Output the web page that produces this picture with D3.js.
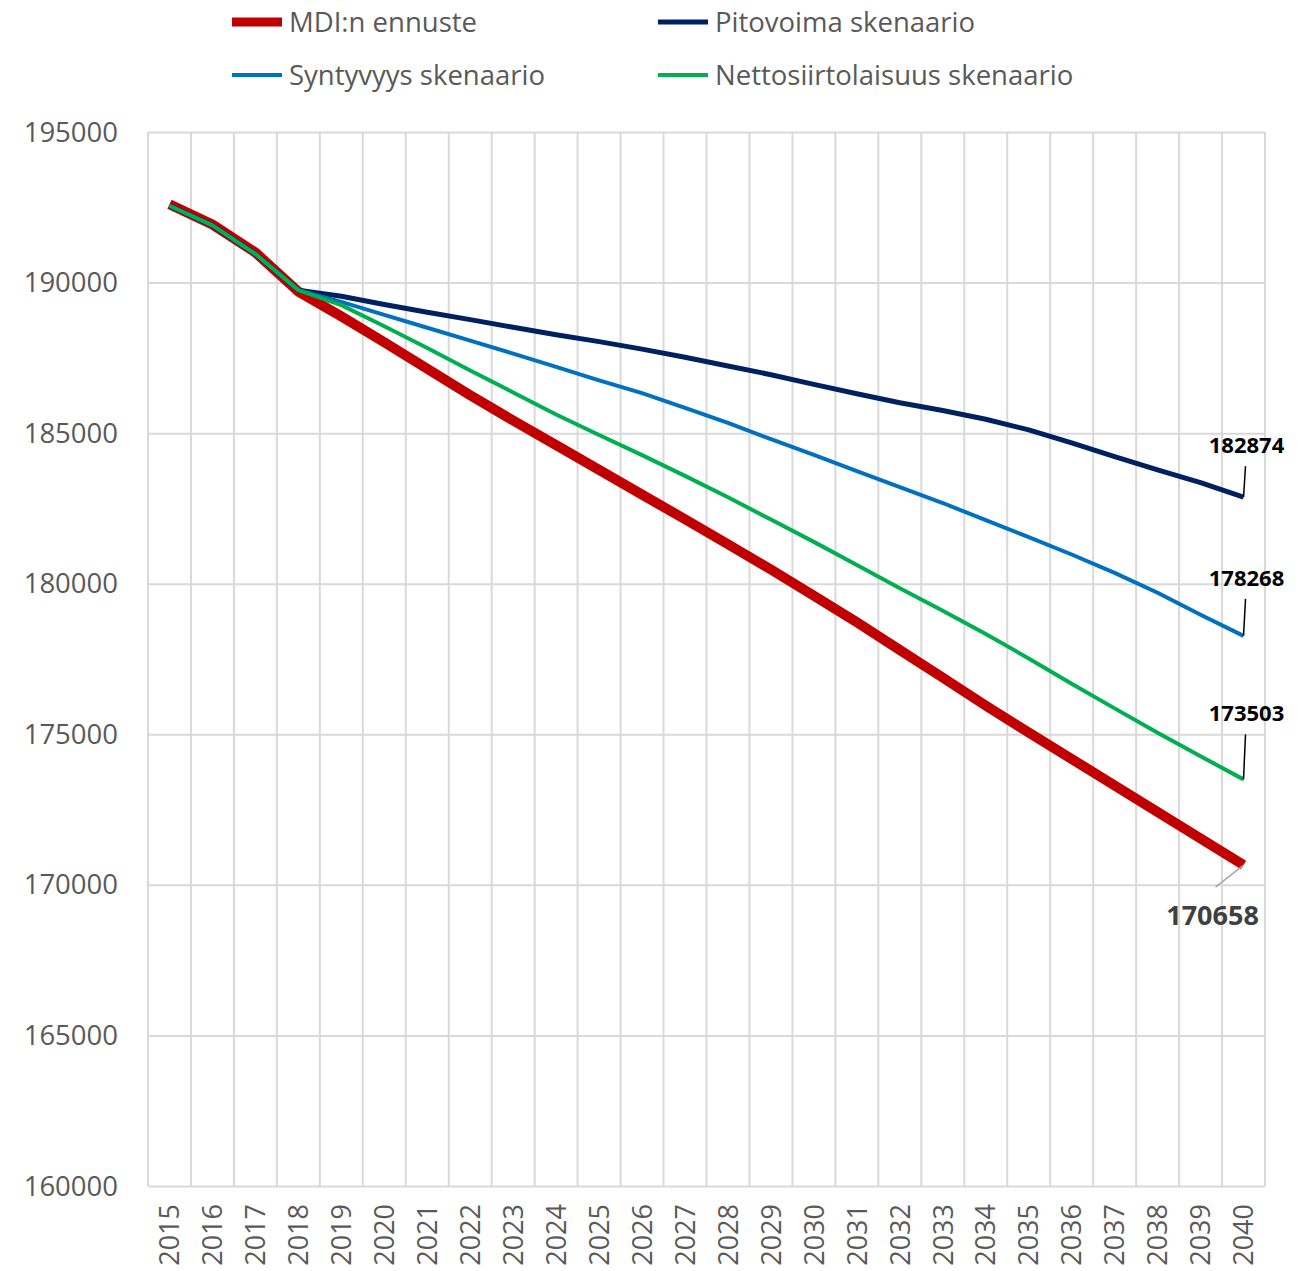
<!DOCTYPE html>
<html>
<head>
<meta charset="utf-8">
<script src="https://cdn.jsdelivr.net/npm/d3@7"></script>
<style>
  body { margin: 0; background: #fff; }
  text { font-family: "Open Sans", "Liberation Sans", sans-serif; }
</style>
</head>
<body>
<div id="chart"></div>
<script>
var years = ["2015","2016","2017","2018","2019","2020","2021","2022","2023","2024","2025","2026","2027",
  "2028","2029","2030","2031","2032","2033","2034","2035","2036","2037","2038","2039","2040"];

var mdi = [192600, 191930, 191000, 189700, 188880, 188020, 187140, 186260, 185420, 184600, 183780, 182960, 182140,
  181310, 180470, 179600, 178720, 177800, 176880, 175950, 175060, 174180, 173300, 172420, 171540, 170658];
var pitovoima = [192550, 191900, 190950, 189750, 189545, 189270, 189013, 188770, 188515, 188270, 188040, 187790, 187520,
  187230, 186940, 186620, 186310, 186010, 185750, 185460, 185110, 184680, 184220, 183780, 183360, 182874];
var syntyvyys = [192550, 191900, 190950, 189750, 189360, 188930, 188500, 188070, 187640, 187200, 186750, 186330, 185840,
  185340, 184800, 184280, 183740, 183210, 182680, 182110, 181550, 180970, 180360, 179700, 178970, 178268];
var netto = [192550, 191900, 190950, 189750, 189250, 188550, 187830, 187080, 186350, 185620, 184940, 184270, 183580,
  182870, 182130, 181390, 180620, 179850, 179100, 178330, 177520, 176680, 175860, 175050, 174270, 173503];

var yTicks = [160000, 165000, 170000, 175000, 180000, 185000, 190000, 195000];

var svgWidth = 1309;
var svgHeight = 1271;
var margin = { top: 132, right: 44, bottom: 85, left: 148 };
var width = svgWidth - margin.left - margin.right;
var height = svgHeight - margin.top - margin.bottom;

var svg = d3.select("#chart")
  .append("svg")
  .attr("width", svgWidth)
  .attr("height", svgHeight);

var chartGroup = svg.append("g")
  .attr("transform", `translate(${margin.left}, ${margin.top})`);

var x = d3.scaleBand().domain(years).range([0, width]).padding(0);
var y = d3.scaleLinear().domain([160000, 195000]).range([height, 0]);
var cx = d => x(d) + x.bandwidth() / 2;

// gridlines
chartGroup.append("g")
  .call(d3.axisLeft(y).tickValues(yTicks).tickSize(-width).tickFormat(""))
  .call(g => g.select(".domain").remove())
  .selectAll("line").attr("stroke", "#d9d9d9").attr("stroke-width", 2);

chartGroup.append("g")
  .selectAll("line")
  .data(years.concat(["end"]))
  .enter()
  .append("line")
  .attr("x1", d => d === "end" ? width : x(d))
  .attr("x2", d => d === "end" ? width : x(d))
  .attr("y1", 0)
  .attr("y2", height)
  .attr("stroke", "#d9d9d9")
  .attr("stroke-width", 2);

// y axis labels
chartGroup.append("g")
  .selectAll("text")
  .data(yTicks)
  .enter()
  .append("text")
  .attr("x", -30)
  .attr("y", d => y(d))
  .attr("dy", "0.35em")
  .attr("text-anchor", "end")
  .attr("font-size", "27.5px")
  .attr("fill", "#595959")
  .text(d => d);

// x axis labels
chartGroup.append("g")
  .selectAll("text")
  .data(years)
  .enter()
  .append("text")
  .attr("transform", d => `translate(${cx(d)}, ${height + 18}) rotate(-90)`)
  .attr("dy", "0.36em")
  .attr("text-anchor", "end")
  .attr("font-size", "27px")
  .attr("fill", "#595959")
  .text(d => d);

var series = [
  { name: "Pitovoima skenaario", values: pitovoima, color: "#002060", w: 5 },
  { name: "Syntyvyys skenaario", values: syntyvyys, color: "#0070c0", w: 4 },
  { name: "Nettosiirtolaisuus skenaario", values: netto, color: "#00b050", w: 4 },
  { name: "MDI:n ennuste", values: mdi, color: "#c00000", w: 10 }
];

var line = d3.line()
  .x((d, i) => cx(years[i]))
  .y(d => y(d));

// red first, thin lines on top of it
var order = [series[3], series[0], series[1], series[2]];
chartGroup.selectAll(".series")
  .data(order)
  .enter()
  .append("path")
  .attr("class", "series")
  .attr("d", d => line(d.values))
  .attr("fill", "none")
  .attr("stroke", d => d.color)
  .attr("stroke-width", d => d.w)
  .attr("stroke-linejoin", "round");

// end labels with leader lines
var last = years[years.length - 1];
var endLabels = [
  { v: pitovoima[25], dx: 3, dy: -52, col: "#000", size: 22, line: "#000" },
  { v: syntyvyys[25], dx: 3, dy: -58, col: "#000", size: 22, line: "#000" },
  { v: netto[25], dx: 3, dy: -66, col: "#000", size: 22, line: "#000" },
  { v: mdi[25], dx: -31, dy: 51, col: "#404040", size: 27, line: "#a6a6a6" }
];
endLabels.forEach(function(l) {
  var px = cx(last), py = y(l.v);
  var lead = l.dy < 0 ? { x2: px + 2, y2: py + l.dy + 21 } : { x2: px - 28, y2: py + 22 };
  chartGroup.append("line")
    .attr("x1", px).attr("y1", py)
    .attr("x2", lead.x2).attr("y2", lead.y2)
    .attr("stroke", l.line).attr("stroke-width", 1.5);
  chartGroup.append("text")
    .attr("x", px + l.dx)
    .attr("y", py + l.dy)
    .attr("dy", "0.35em")
    .attr("text-anchor", "middle")
    .attr("font-size", l.size + "px")
    .attr("font-weight", "bold")
    .attr("fill", l.col)
    .text(l.v);
});

// legend
var legendItems = [
  { s: series[3], x: 232, y: 22, w: 9 },
  { s: series[0], x: 658, y: 22, w: 5 },
  { s: series[1], x: 232, y: 75, w: 4 },
  { s: series[2], x: 658, y: 75, w: 4 }
];
var legend = svg.append("g");
legendItems.forEach(function(it) {
  legend.append("line")
    .attr("x1", it.x).attr("x2", it.x + 50)
    .attr("y1", it.y).attr("y2", it.y)
    .attr("stroke", it.s.color)
    .attr("stroke-width", it.w);
  legend.append("text")
    .attr("x", it.x + 57)
    .attr("y", it.y)
    .attr("dy", "0.35em")
    .attr("font-size", "27.5px")
    .attr("fill", "#595959")
    .text(it.s.name);
});
</script>
</body>
</html>
